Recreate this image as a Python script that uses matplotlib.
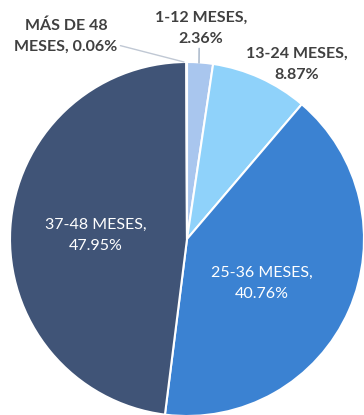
import matplotlib.pyplot as plt

# data
labels = ['1-12 MESES', '13-24 MESES', '25-36 MESES', '37-48 MESES', 'MÁS DE 48\nMESES']
values = [2.36, 8.87, 40.76, 47.95, 0.06]
colors = ['#a9c6ee', '#8fd2fa', '#3b82d2', '#405477', '#c9d6e8']

W, H = 364, 415
fig = plt.figure(figsize=(W / 100, H / 100), dpi=100)
ax = fig.add_axes([0, 0, 1, 1])

cx, cy, r = 187, H - 239, 177
wedges, _ = ax.pie(values, colors=colors, startangle=90, counterclock=False,
                   center=(cx, cy), radius=r, frame=True,
                   wedgeprops=dict(edgecolor='white', linewidth=1.5))
ax.set_xlim(0, W)
ax.set_ylim(0, H)
ax.axis('off')

font = 'Lato'
dark = '#404040'
fs = 11.5
ls = 1.65

def pct(v):
    return f'{v:.2f}%'

# outside labels with leader lines
first, second = labels[4].split('\n')
ax.annotate(f'{first}\n{second}, {pct(values[4])}',
            xy=(184, H - 62), xytext=(66, H - 36), ha='center', va='center',
            fontsize=fs, fontweight='bold', color=dark, family=font, linespacing=ls,
            arrowprops=dict(arrowstyle='-', color='#c0c8d4', lw=1,
                            shrinkA=0, shrinkB=0, relpos=(1.0, 0.25)))
ax.annotate(f'{labels[0]},\n{pct(values[0])}',
            xy=(199, H - 63), xytext=(201, H - 28), ha='center', va='center',
            fontsize=fs, fontweight='bold', color=dark, family=font, linespacing=ls,
            arrowprops=dict(arrowstyle='-', color='#a0b0c4', lw=1,
                            shrinkA=0, shrinkB=0, relpos=(0.48, 0.0)))
ax.text(297, H - 64, f'{labels[1]},\n{pct(values[1])}', ha='center', va='center',
        fontsize=fs, fontweight='bold', color=dark, family=font, linespacing=ls)

# inside labels
ax.text(96, H - 235, f'{labels[3]},\n{pct(values[3])}', ha='center', va='center',
        fontsize=fs, color='white', family=font, linespacing=ls)
ax.text(262, H - 283, f'{labels[2]},\n{pct(values[2])}', ha='center', va='center',
        fontsize=fs, color='white', family=font, linespacing=ls)

fig.savefig('out.png', dpi=100, facecolor='white')
